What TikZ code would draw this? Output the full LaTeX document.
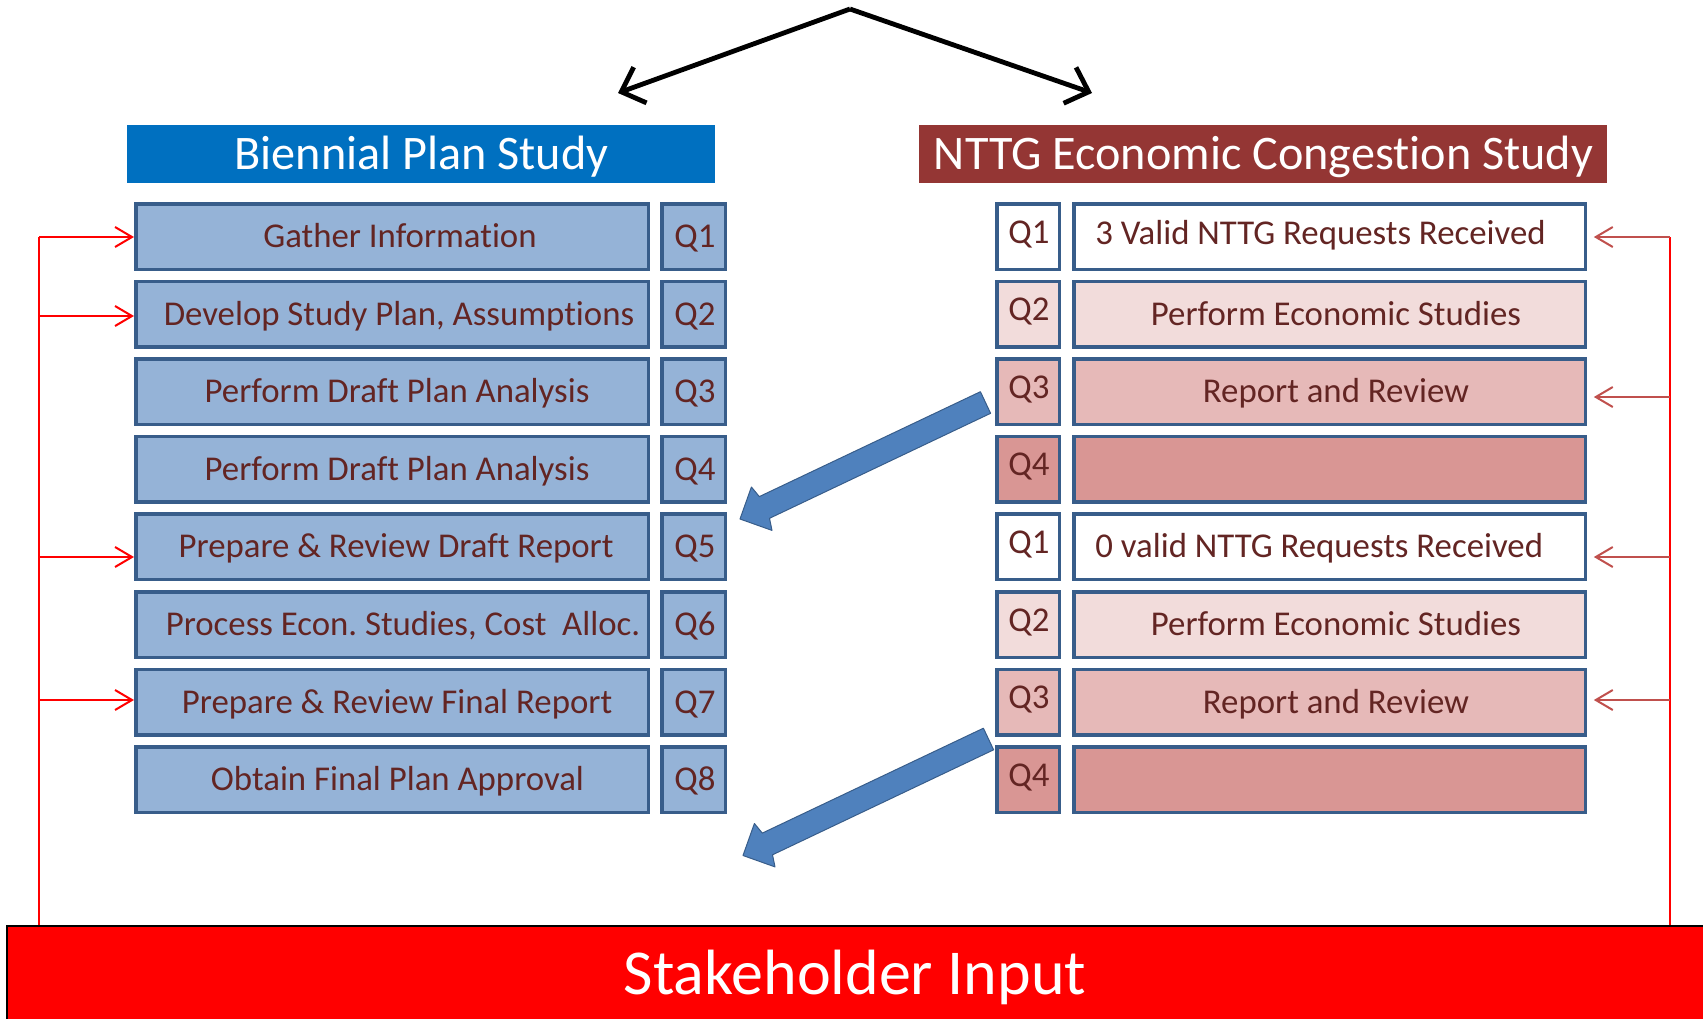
\documentclass[tikz,border=0pt]{standalone}
\usepackage{fontspec}
\setmainfont{Carlito}[Ligatures=NoCommon]
\usetikzlibrary{arrows.meta,calc}
\definecolor{tblue}{HTML}{0070C0}
\definecolor{tbrown}{HTML}{943634}
\definecolor{bord}{HTML}{385D8A}
\definecolor{lfill}{HTML}{95B3D7}
\definecolor{rfa}{HTML}{F2DCDB}
\definecolor{rfb}{HTML}{E6B9B8}
\definecolor{rfc}{HTML}{D99694}
\definecolor{tred}{HTML}{632523}
\definecolor{barrow}{HTML}{4F81BD}
\definecolor{rarrow}{HTML}{C0504D}
\frenchspacing
\begin{document}
\begin{tikzpicture}[x=0.5pt,y=-0.5pt,
  boxbase/.style={draw=bord, line width=1.75pt, minimum height=32.75pt, inner sep=0pt},
  lbox/.style={boxbase, fill=lfill, minimum width=256.25pt},
  lq/.style={boxbase, fill=lfill, minimum width=31.75pt},
  rq/.style={boxbase, minimum width=31.25pt},
  rbox/.style={boxbase, minimum width=255.75pt},
  txt/.style={text=tred, font=\fontsize{17.4pt}{20pt}\selectfont, inner sep=0pt, text height=11pt, text depth=0pt},
  title/.style={text=white, font=\fontsize{24.1pt}{27pt}\selectfont, inner sep=0pt, text height=15.2pt, text depth=0pt},
  redarr/.style={draw=red, line width=1pt, -{Straight Barb[length=8.5pt,width=10pt]}},
  rarr/.style={draw=rarrow, line width=1pt, -{Straight Barb[length=8.5pt,width=10pt]}, shorten >=3.4pt},
  blk/.style={draw=black, line width=2.4pt, line join=round, -{Straight Barb[length=10pt,width=19pt]}},
  block/.style={fill=barrow, draw=bord, line width=0.5pt, line join=round}]
\useasboundingbox (0,0) rectangle (1703,1018);

% top black arrows
\coordinate (apex) at (850,9);
\coordinate (bl) at (618,93);
\coordinate (br) at (1092,93);
\draw[blk] (apex) -- (bl);
\draw[blk] (apex) -- (br);

% titles
\node[fill=tblue, minimum width=294pt, minimum height=29pt, inner sep=0pt] (T1) at (421,154) {};
\node[title] (T1t) at (421.5,154) {Biennial Plan Study};
\node[fill=tbrown, minimum width=344pt, minimum height=29pt, inner sep=0pt] (T2) at (1263,154) {};
\node[title] (T2t) at (1263.5,154) {NTTG Economic Congestion Study};

% left column
\node[lbox] (L1) at (392,236.5) {};
\node[lbox] (L2) at (392,314.1) {};
\node[lbox] (L3) at (392,391.7) {};
\node[lbox] (L4) at (392,469.3) {};
\node[lbox] (L5) at (392,546.9) {};
\node[lbox] (L6) at (392,624.5) {};
\node[lbox] (L7) at (392,702.1) {};
\node[lbox] (L8) at (392,779.7) {};
\node[txt] (L1t) at (400,236.5) {Gather Information};
\node[txt] (L2t) at (399,314.1) {Develop Study Plan, Assumptions};
\node[txt] (L3t) at (397,391.7) {Perform Draft Plan Analysis};
\node[txt] (L4t) at (397,469.3) {Perform Draft Plan Analysis};
\node[txt] (L5t) at (396,546.9) {Prepare \& Review Draft Report};
\node[txt] (L6t) at (403,624.5) {Process Econ. Studies, Cost\ \ Alloc.};
\node[txt] (L7t) at (397,702.1) {Prepare \& Review Final Report};
\node[txt] (L8t) at (397.5,779.7) {Obtain Final Plan Approval};

\node[lq] (LQ1) at (693.5,236.5) {};
\node[lq] (LQ2) at (693.5,314.1) {};
\node[lq] (LQ3) at (693.5,391.7) {};
\node[lq] (LQ4) at (693.5,469.3) {};
\node[lq] (LQ5) at (693.5,546.9) {};
\node[lq] (LQ6) at (693.5,624.5) {};
\node[lq] (LQ7) at (693.5,702.1) {};
\node[lq] (LQ8) at (693.5,779.7) {};
\node[txt] (LQ1t) at (695,236.5) {Q1};
\node[txt] (LQ2t) at (695,314.1) {Q2};
\node[txt] (LQ3t) at (695,391.7) {Q3};
\node[txt] (LQ4t) at (695,469.3) {Q4};
\node[txt] (LQ5t) at (695,546.9) {Q5};
\node[txt] (LQ6t) at (695,624.5) {Q6};
\node[txt] (LQ7t) at (695,702.1) {Q7};
\node[txt] (LQ8t) at (695,779.7) {Q8};

% right column
\node[rq, fill=white] (RQ1) at (1028,236.5) {};
\node[rq, fill=rfa] (RQ2) at (1028,314.1) {};
\node[rq, fill=rfb] (RQ3) at (1028,391.7) {};
\node[rq, fill=rfc] (RQ4) at (1028,469.3) {};
\node[rq, fill=white] (RQ5) at (1028,546.9) {};
\node[rq, fill=rfa] (RQ6) at (1028,624.5) {};
\node[rq, fill=rfb] (RQ7) at (1028,702.1) {};
\node[rq, fill=rfc] (RQ8) at (1028,779.7) {};
\node[txt] (RQ1t) at (1029,232) {Q1};
\node[txt] (RQ2t) at (1029,309.6) {Q2};
\node[txt] (RQ3t) at (1029,387.2) {Q3};
\node[txt] (RQ4t) at (1029,464.8) {Q4};
\node[txt] (RQ5t) at (1029,542.4) {Q1};
\node[txt] (RQ6t) at (1029,620) {Q2};
\node[txt] (RQ7t) at (1029,697.6) {Q3};
\node[txt] (RQ8t) at (1029,775.2) {Q4};

\node[rbox, fill=white] (R1) at (1329.5,236.5) {};
\node[rbox, fill=rfa] (R2) at (1329.5,314.1) {};
\node[rbox, fill=rfb] (R3) at (1329.5,391.7) {};
\node[rbox, fill=rfc] (R4) at (1329.5,469.3) {};
\node[rbox, fill=white] (R5) at (1329.5,546.9) {};
\node[rbox, fill=rfa] (R6) at (1329.5,624.5) {};
\node[rbox, fill=rfb] (R7) at (1329.5,702.1) {};
\node[rbox, fill=rfc] (R8) at (1329.5,779.7) {};
\node[txt, anchor=west] (R1t) at (1095,233) {3 Valid NTTG Requests Received};
\node[txt] (R2t) at (1336,314.1) {Perform Economic Studies};
\node[txt] (R3t) at (1336,391.7) {Report and Review};
\node[txt, anchor=west] (R5t) at (1095,546) {0 valid NTTG Requests Received};
\node[txt] (R6t) at (1336,624.5) {Perform Economic Studies};
\node[txt] (R7t) at (1336,702.1) {Report and Review};

% blue block arrows
\filldraw[block] (980.4,391.7) -- (990.6,413.3) -- (769.5,518.3) -- (772,530.4) -- (740,519) -- (751.4,487) -- (759.3,496.6) -- cycle;
\begin{scope}[shift={(3,336.5)}]
\filldraw[block] (980.4,391.7) -- (990.6,413.3) -- (769.5,518.3) -- (772,530.4) -- (740,519) -- (751.4,487) -- (759.3,496.6) -- cycle;
\end{scope}

% stakeholder input
\node[draw=black, line width=1.25pt, fill=red, minimum width=852pt, minimum height=50pt, inner sep=0pt] (SI) at (859,976) {};
\node[text=white, font=\fontsize{32pt}{36pt}\selectfont, inner sep=0pt, text height=20.2pt, text depth=0pt] (SIt) at (855,974) {Stakeholder Input};

% left red feedback
\coordinate (lv1) at (39,237);
\coordinate (lv2) at (39,316);
\coordinate (lv5) at (39,557);
\coordinate (lv7) at (39,700);
\coordinate (lvb) at (39,925);
\draw[red, line width=0.7pt] (lv1) -- (lvb);
\draw[redarr] (lv1) -- (lv1 -| L1.west);
\draw[redarr] (lv2) -- (lv2 -| L2.west);
\draw[redarr] (lv5) -- (lv5 -| L5.west);
\draw[redarr] (lv7) -- (lv7 -| L7.west);

% right red feedback
\coordinate (rv1) at (1670,237);
\coordinate (rv3) at (1670,397);
\coordinate (rv5) at (1670,557);
\coordinate (rv7) at (1670,700);
\coordinate (rvb) at (1670,925);
\draw[red, line width=1pt] (rv1) -- (rvb);
\draw[rarr] (rv1) -- (rv1 -| R1.east);
\draw[rarr] (rv3) -- (rv3 -| R3.east);
\draw[rarr] (rv5) -- (rv5 -| R5.east);
\draw[rarr] (rv7) -- (rv7 -| R7.east);
\end{tikzpicture}
\end{document}
